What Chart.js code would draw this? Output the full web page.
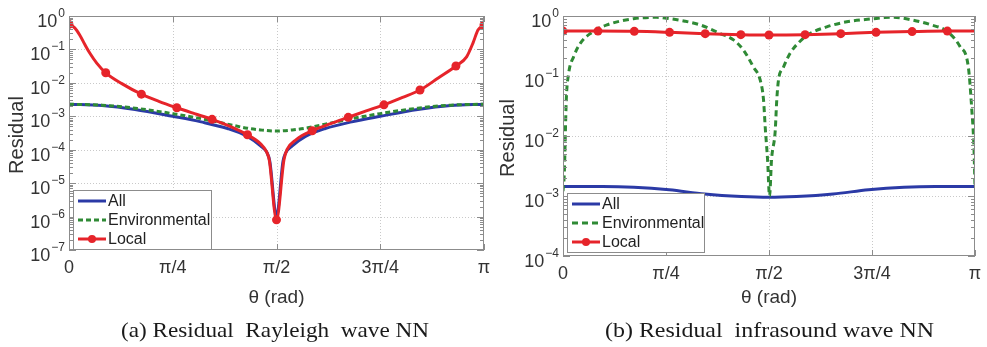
<!DOCTYPE html>
<html>
<head>
<meta charset="utf-8">
<script src="https://cdn.jsdelivr.net/npm/chart.js@4.4.1/dist/chart.umd.min.js"></script>
<style>
  html, body { margin: 0; padding: 0; background: #fff; }
  #wrap { position: relative; width: 987px; height: 347px; overflow: hidden; }
  canvas { position: absolute; top: 0; }
</style>
</head>
<body>
<div id="wrap">
  <canvas id="chartA" width="493" height="347" style="left:0"></canvas>
  <canvas id="chartB" width="494" height="347" style="left:493px"></canvas>
</div>
<script>
const PI = Math.PI;
const xTickValues = [0, PI / 4, PI / 2, 3 * PI / 4, PI];
const xTickLabels = ['0', 'π/4', 'π/2', '3π/4', 'π'];
const seriesNames = ['All', 'Environmental', 'Local'];

// (a) Rayleigh wave
const aDecades = [0, -1, -2, -3, -4, -5, -6, -7];
const aAllTheta = [0, 0.25, 0.5, 0.785, 1.0, 1.2, 1.35, 1.45, 1.5, 1.52, 1.5708, 1.62, 1.64, 1.69, 1.79, 1.94, 2.14, 2.356, 2.64, 2.89, 3.1415];
const aAllRes = [2.3e-3, 2.1e-3, 1.6e-3, 1.0e-3, 6.8e-4, 4.3e-4, 2.5e-4, 1.3e-4, 8e-5, 4.5e-5, 1e-6, 4.5e-5, 8e-5, 1.3e-4, 2.5e-4, 4.3e-4, 6.8e-4, 1.0e-3, 1.6e-3, 2.1e-3, 2.3e-3];
const aEnvTheta = [0, 0.25, 0.5, 0.785, 1.0, 1.2, 1.35, 1.45, 1.5708, 1.69, 1.79, 1.94, 2.14, 2.356, 2.64, 2.89, 3.1415];
const aEnvRes = [2.3e-3, 2.15e-3, 1.75e-3, 1.2e-3, 8.5e-4, 5.8e-4, 4.4e-4, 3.9e-4, 3.6e-4, 3.9e-4, 4.4e-4, 5.8e-4, 8.5e-4, 1.2e-3, 1.75e-3, 2.15e-3, 2.3e-3];
const aLocalTheta = [0, 0.043, 0.081, 0.12, 0.157, 0.21, 0.278, 0.4, 0.548, 0.68, 0.816, 0.95, 1.083, 1.22, 1.351, 1.45, 1.495, 1.516, 1.5708, 1.627, 1.65, 1.72, 1.841, 1.98, 2.114, 2.25, 2.384, 2.52, 2.657, 2.795, 2.929, 3.01, 3.058, 3.096, 3.1415];
const aLocalRes = [0.56, 0.44, 0.27, 0.14, 0.078, 0.039, 0.020, 0.0095, 0.0046, 0.0028, 0.0018, 0.0012, 8.1e-4, 5.0e-4, 2.8e-4, 1.5e-4, 8.7e-5, 4.9e-5, 8e-7, 4.9e-5, 1.0e-4, 2.0e-4, 3.7e-4, 6.0e-4, 9.3e-4, 1.45e-3, 2.2e-3, 3.6e-3, 6.1e-3, 0.014, 0.032, 0.06, 0.155, 0.38, 0.54];
const aLocalMarks = [0, 0.278, 0.548, 0.816, 1.083, 1.351, 1.5708, 1.841, 2.114, 2.384, 2.657, 2.929, 3.1415];

// (b) infrasound wave
const bDecades = [0, -1, -2, -3, -4];
const bAllTheta = [0, 0.3, 0.54, 0.81, 1.08, 1.36, 1.5708, 1.78, 2.06, 2.33, 2.6, 2.84, 3.1415];
const bAllRes = [1.44e-3, 1.44e-3, 1.40e-3, 1.27e-3, 1.08e-3, 9.8e-4, 9.5e-4, 9.8e-4, 1.08e-3, 1.27e-3, 1.40e-3, 1.44e-3, 1.44e-3];
const bEnvTheta = [0, 0.01, 0.025, 0.043, 0.081, 0.132, 0.208, 0.335, 0.538, 0.716, 0.787, 0.93, 1.046, 1.199, 1.300, 1.376, 1.453, 1.504, 1.529, 1.542, 1.56, 1.575, 1.59, 1.618, 1.63, 1.643, 1.681, 1.732, 1.808, 1.884, 2.011, 2.164, 2.367, 2.45, 2.519, 2.662, 2.80, 2.931, 3.027, 3.091, 3.116, 3.134, 3.1415];
const bEnvRes = [1.2e-3, 2.4e-3, 0.04, 0.11, 0.21, 0.35, 0.51, 0.71, 0.9, 0.95, 0.92, 0.82, 0.71, 0.51, 0.40, 0.27, 0.14, 0.085, 0.04, 0.014, 4e-3, 1.0e-3, 4e-3, 0.012, 0.04, 0.085, 0.14, 0.24, 0.38, 0.51, 0.66, 0.80, 0.9, 0.94, 0.95, 0.86, 0.72, 0.55, 0.31, 0.14, 0.03, 6e-3, 1.4e-3];
const bLocalTheta = [0, 0.2667, 0.5435, 0.8127, 1.0845, 1.356, 1.5708, 1.846, 2.118, 2.387, 2.662, 2.931, 3.1415];
const bLocalRes = [0.56, 0.56, 0.555, 0.534, 0.508, 0.489, 0.482, 0.489, 0.508, 0.534, 0.55, 0.56, 0.56];
const bLocalMarks = [0, 0.2667, 0.5435, 0.8127, 1.0845, 1.356, 1.5708, 1.846, 2.118, 2.387, 2.662, 2.931];

const BLUE = '#2b3aa6';
const GREEN = '#2f8a35';
const RED = '#e6242a';

function pts(xs, ys) {
  return xs.map((x, i) => ({ x: x, y: ys[i] }));
}

// stretch a caption horizontally to span [left, right]
function fitText(c, text, left, right, y) {
  const w = c.measureText(text).width;
  c.save();
  c.translate(left, y);
  c.scale((right - left) / w, 1);
  c.textAlign = 'left';
  c.fillText(text, 0, 0);
  c.restore();
}

// grid, box, ticks, labels, legend, captions
const deco = {
  id: 'deco',
  beforeDatasetsDraw(chart, args, o) {
    const c = chart.ctx, a = chart.chartArea;
    const xs = chart.scales.x, ys = chart.scales.y;
    c.save();
    c.strokeStyle = '#c9c9c9';
    c.lineWidth = 1;
    c.setLineDash([1, 2]);
    xTickValues.slice(1, -1).forEach(v => {
      const px = Math.round(xs.getPixelForValue(v)) + 0.5;
      c.beginPath(); c.moveTo(px, a.top); c.lineTo(px, a.bottom); c.stroke();
    });
    o.decades.slice(1, -1).forEach(e => {
      const py = Math.round(ys.getPixelForValue(Math.pow(10, e))) + 0.5;
      c.beginPath(); c.moveTo(a.left, py); c.lineTo(a.right, py); c.stroke();
    });
    c.restore();
  },
  afterDatasetsDraw(chart, args, o) {
    const c = chart.ctx, a = chart.chartArea;
    const xs = chart.scales.x, ys = chart.scales.y;
    c.save();
    c.setLineDash([]);
    c.strokeStyle = '#8c8c8c';
    c.lineWidth = 1;
    c.strokeRect(a.left + 0.5, a.top + 0.5, a.right - a.left - 1, a.bottom - a.top - 1);

    // minor + major ticks on y
    const lo = Math.min(...o.decades), hi = Math.max(...o.decades);
    c.beginPath();
    for (let e = lo; e < hi; e++) {
      for (let m = 2; m <= 9; m++) {
        const py = Math.round(ys.getPixelForValue(m * Math.pow(10, e))) + 0.5;
        c.moveTo(a.left, py); c.lineTo(a.left + 4, py);
        c.moveTo(a.right, py); c.lineTo(a.right - 4, py);
      }
    }
    o.decades.forEach(e => {
      const py = Math.round(ys.getPixelForValue(Math.pow(10, e))) + 0.5;
      c.moveTo(a.left, py); c.lineTo(a.left + 7, py);
      c.moveTo(a.right, py); c.lineTo(a.right - 7, py);
    });
    xTickValues.forEach(v => {
      const px = Math.round(xs.getPixelForValue(v)) + 0.5;
      c.moveTo(px, a.bottom); c.lineTo(px, a.bottom - 6);
      c.moveTo(px, a.top); c.lineTo(px, a.top + 6);
    });
    c.stroke();

    // y tick labels 10^e
    c.fillStyle = '#333';
    o.decades.forEach(e => {
      const py = ys.getPixelForValue(Math.pow(10, e));
      const ex = e === 0 ? '0' : '\u2212' + (-e);
      c.font = '12px "Liberation Sans", Arial, sans-serif';
      const ew = c.measureText(ex).width;
      const bx = a.left - 4 - ew;
      c.textAlign = 'left';
      c.textBaseline = 'alphabetic';
      c.fillText(ex, bx, py + 1);
      c.font = '18px "Liberation Sans", Arial, sans-serif';
      c.textAlign = 'right';
      c.fillText('10', bx - 1, py + 11);
    });

    // x tick labels
    c.font = '18px "Liberation Sans", Arial, sans-serif';
    c.textAlign = 'center';
    c.textBaseline = 'middle';
    xTickValues.forEach((v, i) => {
      c.fillText(xTickLabels[i], xs.getPixelForValue(v), a.bottom + 18);
    });

    // axis titles
    const cx = (a.left + a.right) / 2;
    c.font = '19px "Liberation Sans", Arial, sans-serif';
    c.fillText('θ (rad)', cx, 298);
    c.save();
    c.translate(o.yTitleX, (a.top + a.bottom) / 2 + 2);
    c.rotate(-PI / 2);
    c.font = '20px "Liberation Sans", Arial, sans-serif';
    c.fillText('Residual', 0, 0);
    c.restore();

    // caption
    c.fillStyle = '#1a1a1a';
    c.font = '21px "Liberation Serif", "Times New Roman", serif';
    fitText(c, o.caption, o.captionL, o.captionR, 331);

    // legend
    const L = o.legend;
    c.fillStyle = '#fff';
    c.fillRect(L.x, L.y, L.w, L.h);
    c.strokeStyle = '#8c8c8c';
    c.lineWidth = 1;
    c.strokeRect(L.x + 0.5, L.y + 0.5, L.w, L.h);
    chart.data.datasets.forEach((ds, i) => {
      const ry = L.y + 11 + i * 19;
      c.strokeStyle = ds.borderColor;
      c.lineWidth = 3;
      c.setLineDash(ds.borderDash || []);
      c.beginPath(); c.moveTo(L.x + 5, ry); c.lineTo(L.x + 33, ry); c.stroke();
      c.setLineDash([]);
      if (ds.label === 'Local') {
        c.fillStyle = RED;
        c.beginPath(); c.arc(L.x + 19, ry, 4, 0, 2 * PI); c.fill();
      }
      c.fillStyle = '#222';
      c.font = '16px "Liberation Sans", Arial, sans-serif';
      c.textAlign = 'left';
      c.fillText(seriesNames[i], L.x + 35, ry + 1);
    });
    c.restore();
  }
};

function makeChart(id, cfg) {
  const markR = (marks) => (ctx) => {
    const r = ctx.raw;
    return r && marks.some(t => Math.abs(t - r.x) < 1e-6) ? 4.5 : 0;
  };
  return new Chart(document.getElementById(id).getContext('2d'), {
    type: 'line',
    data: {
      datasets: [{
        label: 'All',
        data: pts(cfg.allT, cfg.allR),
        borderColor: BLUE,
        borderWidth: 3,
        pointRadius: 0,
        cubicInterpolationMode: 'monotone',
        order: 3
      }, {
        label: 'Environmental',
        data: pts(cfg.envT, cfg.envR),
        borderColor: GREEN,
        borderWidth: 3,
        borderDash: cfg.dash,
        pointRadius: 0,
        cubicInterpolationMode: 'monotone',
        order: 2
      }, {
        label: 'Local',
        data: pts(cfg.locT, cfg.locR),
        borderColor: RED,
        backgroundColor: RED,
        borderWidth: 3,
        pointRadius: markR(cfg.marks),
        pointBorderWidth: 0,
        pointBackgroundColor: RED,
        cubicInterpolationMode: 'monotone',
        order: 1
      }]
    },
    options: {
      responsive: false,
      animation: false,
      devicePixelRatio: 1,
      layout: { padding: cfg.pad },
      scales: {
        x: { type: 'linear', min: 0, max: PI, display: false },
        y: { type: 'logarithmic', min: Math.pow(10, Math.min(...cfg.decades)), max: 1, display: false }
      },
      plugins: {
        legend: { display: false },
        tooltip: { enabled: false },
        deco: {
          decades: cfg.decades,
          caption: cfg.caption,
          captionL: cfg.captionL,
          captionR: cfg.captionR,
          yTitleX: cfg.yTitleX,
          legend: cfg.legend
        }
      }
    },
    plugins: [deco]
  });
}

makeChart('chartA', {
  allT: aAllTheta, allR: aAllRes,
  envT: aEnvTheta, envR: aEnvRes,
  locT: aLocalTheta, locR: aLocalRes,
  marks: aLocalMarks,
  decades: aDecades,
  dash: [5, 3],
  pad: { left: 69, top: 16, right: 9, bottom: 97 },
  caption: '(a) Residual  Rayleigh  wave NN',
  captionL: 121,
  captionR: 429,
  yTitleX: 17,
  legend: { x: 73, y: 190, w: 138, h: 59 }
});

makeChart('chartB', {
  allT: bAllTheta, allR: bAllRes,
  envT: bEnvTheta, envR: bEnvRes,
  locT: bLocalTheta, locR: bLocalRes,
  marks: bLocalMarks,
  decades: bDecades,
  dash: [6, 4],
  pad: { left: 70, top: 16, right: 12, bottom: 91 },
  caption: '(b) Residual  infrasound wave NN',
  captionL: 112,
  captionR: 441,
  yTitleX: 15,
  legend: { x: 74, y: 193, w: 137, h: 59 }
});
</script>
</body>
</html>
